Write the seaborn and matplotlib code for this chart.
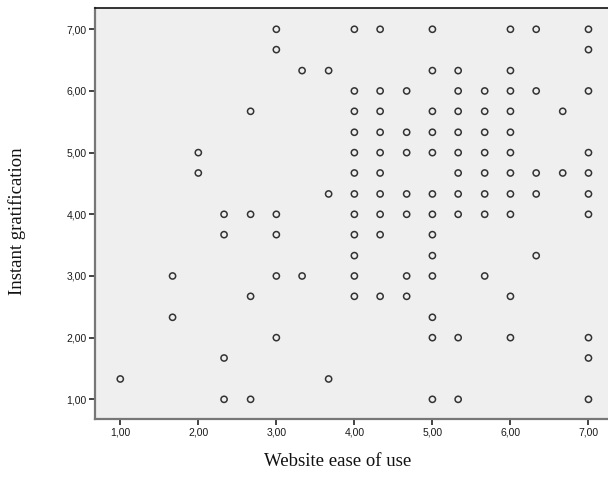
import matplotlib
matplotlib.use("Agg")
import matplotlib.pyplot as plt
import seaborn as sns
import pandas as pd

# Website ease of use (x) and Instant gratification (y), read row by row
ease = [
    3.00, 4.00, 4.33, 5.00, 6.00, 6.33, 7.00,            # y = 7.00
    3.00, 7.00,                                          # y = 6.67
    3.33, 3.67, 5.00, 5.33, 6.00,                        # y = 6.33
    4.00, 4.33, 4.67, 5.33, 5.67, 6.00, 6.33, 7.00,      # y = 6.00
    2.67, 4.00, 4.33, 5.00, 5.33, 5.67, 6.00, 6.67,      # y = 5.67
    4.00, 4.33, 4.67, 5.00, 5.33, 5.67, 6.00,            # y = 5.33
    2.00, 4.00, 4.33, 4.67, 5.00, 5.33, 5.67, 6.00, 7.00,  # y = 5.00
    2.00, 4.00, 4.33, 5.33, 5.67, 6.00, 6.33, 6.67, 7.00,  # y = 4.67
    3.67, 4.00, 4.33, 4.67, 5.00, 5.33, 5.67, 6.00, 6.33, 7.00,  # y = 4.33
    2.33, 2.67, 3.00, 4.00, 4.33, 4.67, 5.00, 5.33, 5.67, 6.00, 7.00,  # y = 4.00
    2.33, 3.00, 4.00, 4.33, 5.00,                        # y = 3.67
    4.00, 5.00, 6.33,                                    # y = 3.33
    1.67, 3.00, 3.33, 4.00, 4.67, 5.00, 5.67,            # y = 3.00
    2.67, 4.00, 4.33, 4.67, 6.00,                        # y = 2.67
    1.67, 5.00,                                          # y = 2.33
    3.00, 5.00, 5.33, 6.00, 7.00,                        # y = 2.00
    2.33, 7.00,                                          # y = 1.67
    1.00, 3.67,                                          # y = 1.33
    2.33, 2.67, 5.00, 5.33, 7.00,                        # y = 1.00
]
gratification = (
    [7.00] * 7 + [6.67] * 2 + [6.33] * 5 + [6.00] * 8 + [5.67] * 8 +
    [5.33] * 7 + [5.00] * 9 + [4.67] * 9 + [4.33] * 10 + [4.00] * 11 +
    [3.67] * 5 + [3.33] * 3 + [3.00] * 7 + [2.67] * 5 + [2.33] * 2 +
    [2.00] * 5 + [1.67] * 2 + [1.33] * 2 + [1.00] * 5
)

tick_values = [1, 2, 3, 4, 5, 6, 7]
tick_labels = ["1,00", "2,00", "3,00", "4,00", "5,00", "6,00", "7,00"]
x_label = "Website ease of use"
y_label = "Instant gratification"

df = pd.DataFrame({"ease": ease, "grat": gratification})

sns.set_style("white")
plt.rcParams["font.family"] = ["Liberation Sans", "DejaVu Sans"]

fig = plt.figure(figsize=(6.08, 4.8), dpi=100)
ax = fig.add_axes([95 / 608, 61 / 480, 520 / 608, 411 / 480])
ax.set_facecolor("#efefef")

sns.scatterplot(data=df, x="ease", y="grat", ax=ax, marker="o", s=20,
                facecolor="none", edgecolor="#333333", linewidth=1.1,
                legend=False, zorder=3)

ax.set_xlim(0.676, 7.34)
ax.set_ylim(0.681, 7.345)
ax.set_xticks(tick_values)
ax.set_xticklabels(tick_labels)
ax.set_yticks(tick_values)
ax.set_yticklabels(tick_labels)
ax.tick_params(axis="both", direction="out", length=4, width=1.2,
               color="#222222", labelsize=7.5, pad=2, labelcolor="#1a1a1a")
ax.tick_params(axis="x", bottom=True)
ax.tick_params(axis="y", left=True)

for side in ["left", "bottom"]:
    ax.spines[side].set_color("#777777")
    ax.spines[side].set_linewidth(1.6)
ax.spines["top"].set_color("#111111")
ax.spines["top"].set_linewidth(1.2)
ax.spines["right"].set_visible(False)

ax.set_xlabel(x_label, family="Liberation Serif", fontsize=13.5, color="#111111")
ax.set_ylabel(y_label, family="Liberation Serif", fontsize=13.5, color="#111111")
ax.xaxis.set_label_coords((338 - 95) / 520, ((480 - 462) - 61) / 411)
ax.yaxis.set_label_coords((17 - 95) / 520, ((480 - 221) - 61) / 411)
ax.xaxis.label.set_va("center")
ax.yaxis.label.set_va("center")

fig.savefig("out.png", dpi=100)
